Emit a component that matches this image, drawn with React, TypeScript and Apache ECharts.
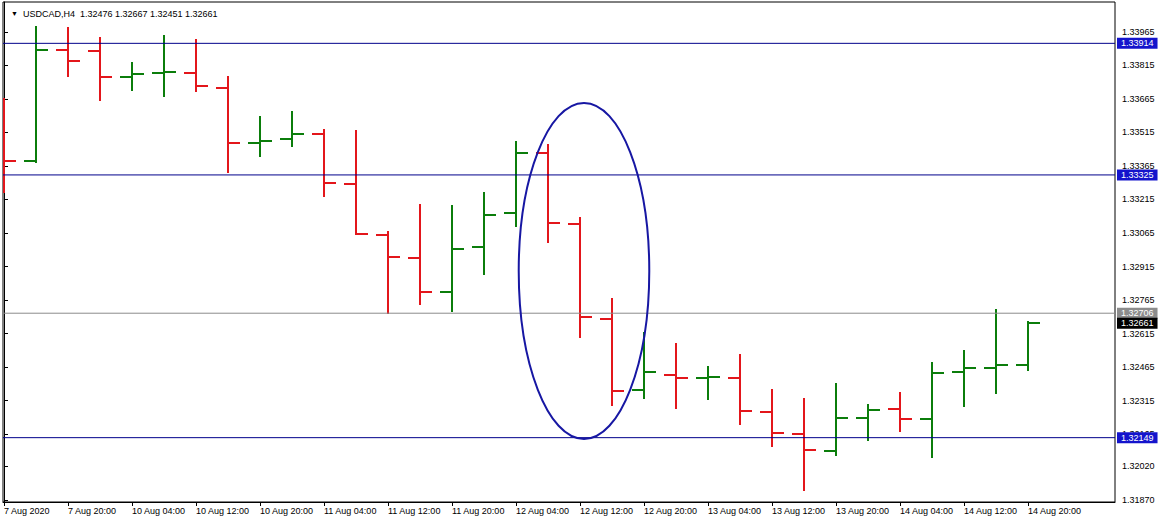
import React, { useEffect, useRef } from "react";
import * as echarts from "echarts";

const categories = [
  "7 Aug 2020", "7 Aug 16:00", "7 Aug 20:00",
  "10 Aug 00:00", "10 Aug 04:00", "10 Aug 08:00", "10 Aug 12:00", "10 Aug 16:00", "10 Aug 20:00",
  "11 Aug 00:00", "11 Aug 04:00", "11 Aug 08:00", "11 Aug 12:00", "11 Aug 16:00", "11 Aug 20:00",
  "12 Aug 00:00", "12 Aug 04:00", "12 Aug 08:00", "12 Aug 12:00", "12 Aug 16:00", "12 Aug 20:00",
  "13 Aug 00:00", "13 Aug 04:00", "13 Aug 08:00", "13 Aug 12:00", "13 Aug 16:00", "13 Aug 20:00",
  "14 Aug 00:00", "14 Aug 04:00", "14 Aug 08:00", "14 Aug 12:00", "14 Aug 16:00", "14 Aug 20:00",
];

const opens = [
  1.3356, 1.33388, 1.33886, 1.33881, 1.33764, 1.33783, 1.33783, 1.33716, 1.3347, 1.33487, 1.3351,
  1.33286, 1.33058, 1.32955, 1.32801, 1.33004, 1.33155, 1.33423, 1.33104, 1.32682, 1.32361, 1.3243,
  1.32418, 1.32418, 1.32264, 1.32167, 1.32091, 1.32239, 1.32279, 1.32234, 1.32444, 1.32461, 1.32476,
];
const highs = [
  1.33665, 1.33989, 1.33983, 1.33937, 1.33825, 1.33947, 1.33928, 1.33762, 1.33583, 1.33606, 1.33526,
  1.33523, 1.3307, 1.33189, 1.33185, 1.33244, 1.33471, 1.33458, 1.33131, 1.32769, 1.32619, 1.32568,
  1.32466, 1.32518, 1.32363, 1.32322, 1.32388, 1.32294, 1.32348, 1.32482, 1.32537, 1.32719, 1.32667,
];
const lows = [
  1.33249, 1.33385, 1.33769, 1.33659, 1.33707, 1.33677, 1.337, 1.3334, 1.33409, 1.33456, 1.3323,
  1.3306, 1.32707, 1.32746, 1.32718, 1.32883, 1.33098, 1.33024, 1.32598, 1.32295, 1.32325, 1.32281,
  1.32321, 1.32212, 1.3211, 1.31916, 1.3207, 1.3214, 1.32181, 1.32064, 1.32292, 1.32351, 1.32451,
];
const closes = [
  1.33388, 1.33886, 1.33835, 1.33764, 1.33778, 1.33787, 1.33723, 1.3347, 1.33478, 1.3351, 1.3329,
  1.33062, 1.32959, 1.32801, 1.32995, 1.33146, 1.33423, 1.33109, 1.32689, 1.32358, 1.32444, 1.32416,
  1.32422, 1.32269, 1.3217, 1.32094, 1.32239, 1.32274, 1.32234, 1.32439, 1.32461, 1.32476, 1.32661,
];

const yTicks = [
  1.33965, 1.33815, 1.33665, 1.33515, 1.33365, 1.33215, 1.33065, 1.32915, 1.32765, 1.32615,
  1.32465, 1.32315, 1.32165, 1.3202, 1.3187,
];

const blueLevels = [1.33914, 1.33325, 1.32149];
const grayLevels = [1.32706];
const currentPrice = 1.32661;

// ellipse annotation (time index / price anchored)
const ellipseCenterIndex = 18.125;
const ellipseHalfWidthBars = 2.04;
const ellipseTopPrice = 1.33647;
const ellipseBottomPrice = 1.32143;

const symbol = "USDCAD,H4";

const X_MIN = -0.03125;
const X_MAX = 34.71875;
const Y_MIN = 1.31861;
const Y_MAX = 1.34099;

const GREEN = "#0B7D0B";
const RED = "#E3161B";
const BLUE_LINE = "#00008B";
const BLUE_BOX = "#1414CC";
const FONT = "Liberation Sans";

export default function App() {
  const ref = useRef<HTMLDivElement>(null);

  useEffect(() => {
    if (!ref.current) return;
    const chart = echarts.init(ref.current, undefined, { renderer: "svg" });
    const n = categories.length;
    const data = categories.map((_, i) => [i, opens[i], closes[i], lows[i], highs[i]]);
    const labelIdx = categories.map((_, i) => i).filter((i) => i % 2 === 0);
    const last = n - 1;
    const titleText = `${symbol}  ${opens[last].toFixed(5)} ${highs[last].toFixed(5)} ${lows[last].toFixed(5)} ${closes[last].toFixed(5)}`;

    const levelSeries = (v: number, lineColor: string, boxColor: string, lineWidth: number) => ({
      type: "line",
      data: [[X_MIN, v], [X_MAX, v]],
      clip: false,
      silent: true,
      showSymbol: false,
      symbol: "none",
      z: 3,
      lineStyle: { color: lineColor, width: lineWidth, type: "solid", opacity: lineWidth > 0 ? 1 : 0 },
      itemStyle: { color: lineColor },
      endLabel: {
        show: true,
        distance: 2,
        formatter: () => v.toFixed(5),
        backgroundColor: boxColor,
        color: "#fff",
        fontFamily: FONT,
        fontSize: 9,
        padding: [1, 4, 1, 4],
      },
    });

    chart.setOption({
      animation: false,
      backgroundColor: "#fff",
      textStyle: { fontFamily: FONT },
      title: {
        text: `{t|▼}  ${titleText}`,
        left: 6,
        top: 4,
        textStyle: {
          fontFamily: FONT,
          fontSize: 9,
          fontWeight: "normal",
          color: "#000",
          rich: { t: { fontSize: 7, color: "#000" } },
        },
      },
      grid: { left: 3, right: 48, top: 2, bottom: 19, show: true, borderColor: "#000", borderWidth: 1, backgroundColor: "#fff" },
      xAxis: {
        type: "value",
        min: X_MIN,
        max: X_MAX,
        axisLine: { show: true, lineStyle: { color: "#000" } },
        splitLine: { show: false },
        axisTick: { show: true, customValues: labelIdx, length: 4, lineStyle: { color: "#000" } },
        axisLabel: {
          customValues: labelIdx,
          formatter: (v: number) => categories[Math.round(v)] ?? "",
          align: "left",
          margin: 4,
          fontSize: 9,
          fontFamily: FONT,
          color: "#000",
          showMinLabel: true,
          showMaxLabel: true,
        },
      },
      yAxis: {
        type: "value",
        position: "right",
        min: Y_MIN,
        max: Y_MAX,
        axisLine: { show: true, lineStyle: { color: "#000" } },
        splitLine: { show: false },
        axisTick: { show: true, customValues: yTicks, length: 4, lineStyle: { color: "#000" } },
        axisLabel: {
          customValues: yTicks,
          formatter: (v: number) => v.toFixed(5),
          margin: 7,
          fontSize: 9,
          fontFamily: FONT,
          color: "#000",
        },
      },
      series: [
        {
          type: "custom",
          clip: true,
          data,
          encode: { x: 0, y: [1, 2, 3, 4] },
          renderItem: (params: any, api: any) => {
            const i = api.value(0);
            const o = api.value(1);
            const c = api.value(2);
            const l = api.value(3);
            const h = api.value(4);
            const pH = api.coord([i, h]);
            const pL = api.coord([i, l]);
            const pO = api.coord([i, o]);
            const pC = api.coord([i, c]);
            const w = api.size([1, 0])[0] * 0.375;
            const color = c > o ? GREEN : RED;
            const x = Math.round(pH[0]);
            const st = { stroke: color, lineWidth: 2 };
            return {
              type: "group",
              children: [
                { type: "line", shape: { x1: x, y1: Math.round(pH[1]) - 1, x2: x, y2: Math.round(pL[1]) + 1 }, style: st },
                { type: "line", shape: { x1: x - Math.round(w), y1: Math.round(pO[1]), x2: x, y2: Math.round(pO[1]) }, style: st },
                { type: "line", shape: { x1: x, y1: Math.round(pC[1]), x2: x + Math.round(w), y2: Math.round(pC[1]) }, style: st },
              ],
            };
          },
        },
        ...blueLevels.map((v) => levelSeries(v, BLUE_LINE, BLUE_BOX, 1)),
        ...grayLevels.map((v) => levelSeries(v, "#8C8C8C", "#8C8C8C", 1)),
        levelSeries(currentPrice, "#000000", "#000000", 0),
      ],
    });

    const top = chart.convertToPixel({ gridIndex: 0 }, [ellipseCenterIndex, ellipseTopPrice]) as number[];
    const bot = chart.convertToPixel({ gridIndex: 0 }, [ellipseCenterIndex, ellipseBottomPrice]) as number[];
    const side = chart.convertToPixel({ gridIndex: 0 }, [ellipseCenterIndex + ellipseHalfWidthBars, ellipseTopPrice]) as number[];
    chart.setOption({
      graphic: [
        {
          type: "ellipse",
          z: 50,
          silent: true,
          shape: { cx: top[0], cy: (top[1] + bot[1]) / 2, rx: side[0] - top[0], ry: (bot[1] - top[1]) / 2 },
          style: { fill: "none", stroke: "#1717A3", lineWidth: 2 },
        },
      ],
    });

    return () => chart.dispose();
  }, []);

  return (
    <div
      ref={ref}
      style={{ position: "absolute", left: 0, top: 0, width: 1163, height: 521, background: "#fff" }}
    />
  );
}
